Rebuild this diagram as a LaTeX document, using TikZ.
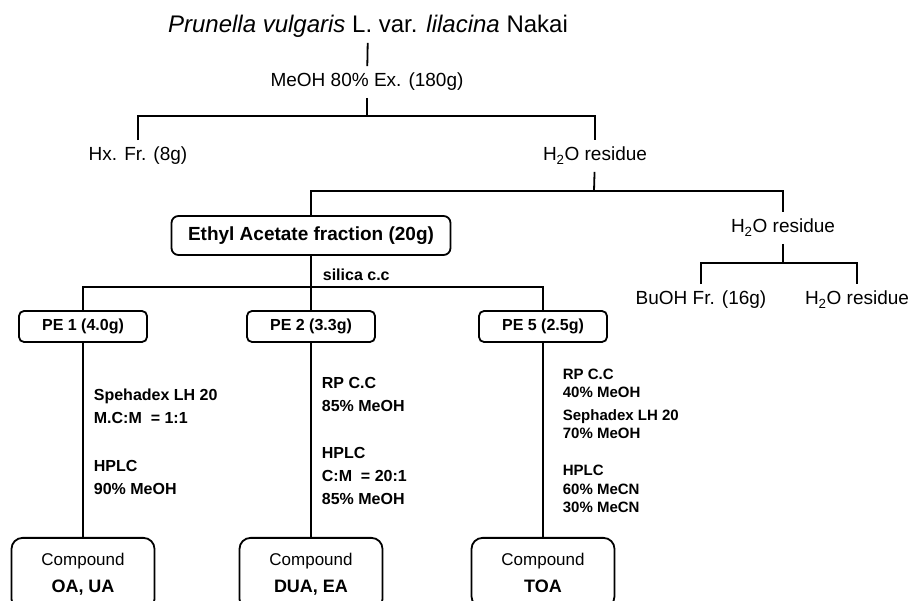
\documentclass[tikz,border=0pt]{standalone}
\usepackage{fontspec}
\setmainfont{Liberation Sans}

\tikzset{
  lbl/.style={inner xsep=0pt, inner ysep=6pt, text height=14pt, text depth=4pt,
    font=\fontsize{19}{22}\selectfont},
  pebox/.style={draw, rounded corners=5pt, minimum width=128pt, minimum height=31pt,
    inner sep=0pt, font=\bfseries\fontsize{16}{19}\selectfont},
  cbox/.style={draw, rounded corners=11pt, minimum width=143pt, inner ysep=15pt,
    align=center, anchor=north, font=\fontsize{17}{27}\selectfont},
  steptxt/.style={anchor=base west, inner sep=0pt, align=left,
    font=\bfseries\fontsize{16}{23.5}\selectfont},
  steptxtb/.style={steptxt, font=\bfseries\fontsize{15}{18.8}\selectfont},
}

\begin{document}
\begin{tikzpicture}[x=1pt, y=-1pt, line width=1.8pt]
  \useasboundingbox (0,0) rectangle (911,601);

  % extraction
  \node[lbl, inner ysep=4pt, text height=17pt, text depth=5pt, font=\fontsize{24}{27}\selectfont] (plant) at (368,27)
    {\textit{Prunella vulgaris} L. var. \textit{lilacina} Nakai};
  \node[lbl] (meoh) at (367,82) {MeOH 80\% Ex. (180g)};
  \coordinate (b1) at (367,116);
  \draw (plant) -- (meoh);
  \draw (meoh) -- (b1);

  \node[lbl] (hx) at (138,156) {Hx. Fr. (8g)};
  \node[lbl] (h2oa) at (595,156) {H\textsubscript{2}O residue};
  \draw (hx.north) |- (b1) -| (h2oa.north);

  % partition
  \coordinate (b2) at (594,191);
  \draw (h2oa) -- (b2);
  \node[draw, rounded corners=7pt, minimum width=279pt, minimum height=39pt,
    font=\bfseries\fontsize{19}{22}\selectfont] (eth) at (311,235.5) {Ethyl Acetate fraction (20g)};
  \node[lbl] (h2ob) at (783,228) {H\textsubscript{2}O residue};
  \draw (eth.north) |- (b2) -| (h2ob.north);

  \coordinate (b4) at (783,263);
  \draw (h2ob) -- (b4);
  \node[lbl] (buoh) at (701,300) {BuOH Fr. (16g)};
  \node[lbl] (h2oc) at (857,300) {H\textsubscript{2}O residue};
  \draw (buoh.north) |- (b4) -| (h2oc.north);

  % silica column
  \node[anchor=west, inner sep=0pt, font=\bfseries\fontsize{16}{19}\selectfont] (sil) at (322,275) {silica c.c};
  \node[pebox] (pe1) at (83,326.5) {PE 1 (4.0g)};
  \node[pebox] (pe2) at (311,326.5) {PE 2 (3.3g)};
  \node[pebox] (pe5) at (543,326.5) {PE 5 (2.5g)};
  \coordinate (b3) at (311,287);
  \draw (eth) -- (pe2);
  \draw (pe1.north) |- (b3) -| (pe5.north);

  % compounds
  \node[cbox] (c1) at (83,537) {Compound\\{\bfseries\fontsize{18}{27}\selectfont OA, UA}};
  \node[cbox] (c2) at (311,537) {Compound\\{\bfseries\fontsize{18}{27}\selectfont DUA, EA}};
  \node[cbox] (c5) at (543,537) {Compound\\{\bfseries\fontsize{18}{27}\selectfont TOA}};
  \draw (pe1) -- (c1);
  \draw (pe2) -- (c2);
  \draw (pe5) -- (c5);

  % conditions (base = last line)
  \node[steptxt] (s1a) at (93,424) {Spehadex LH 20\\M.C:M\ \ = 1:1};
  \node[steptxt] (s1b) at (93,495) {HPLC\\90\% MeOH};
  \node[steptxt] (s2a) at (321,412) {RP C.C\\85\% MeOH};
  \node[steptxt] (s2b) at (321,505) {HPLC\\C:M\ \ = 20:1\\85\% MeOH};
  \node[steptxtb] (s5a) at (562,398) {RP C.C\\40\% MeOH};
  \node[steptxtb] (s5b) at (562,439) {Sephadex LH 20\\70\% MeOH};
  \node[steptxtb] (s5c) at (562,513) {HPLC\\60\% MeCN\\30\% MeCN};
\end{tikzpicture}
\end{document}
